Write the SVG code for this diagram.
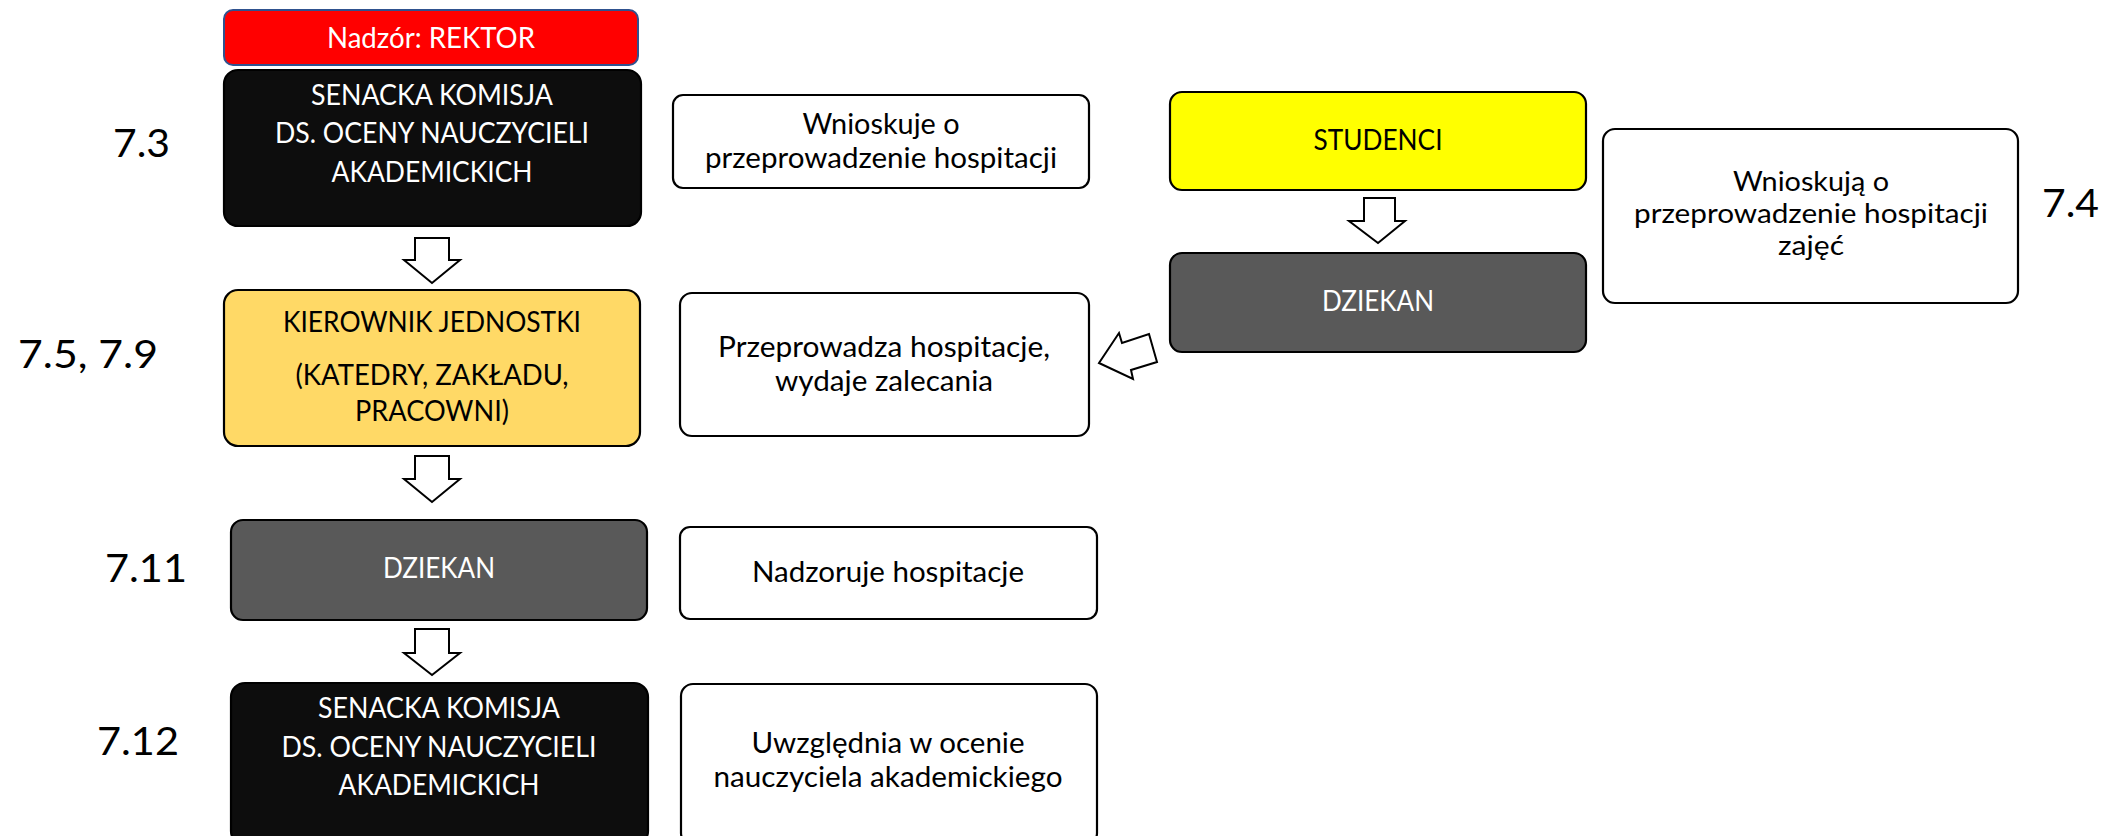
<svg xmlns="http://www.w3.org/2000/svg" width="2103" height="836" viewBox="0 0 2103 836">
<style>
text{font-family:Lato,"Open Sans","Noto Sans","Liberation Sans",sans-serif;font-size:28px;text-anchor:middle;fill:#000}
.w{fill:#fff}
.sm{font-size:26px}
.lbl{font-size:39px;text-anchor:start}
.box{stroke:#000;stroke-width:2.2}
.arr{fill:#fff;stroke:#000;stroke-width:2;stroke-linejoin:miter}
</style>
<rect width="2103" height="836" fill="#fff"/>
<g id="labels">
<text class="lbl" x="113" y="157" textLength="57" lengthAdjust="spacingAndGlyphs">7.3</text>
<text class="lbl" x="18" y="368" textLength="140" lengthAdjust="spacingAndGlyphs">7.5, 7.9</text>
<text class="lbl" x="105" y="582" textLength="82" lengthAdjust="spacingAndGlyphs">7.11</text>
<text class="lbl" x="97" y="755" textLength="82" lengthAdjust="spacingAndGlyphs">7.12</text>
<text class="lbl" x="2042" y="217" textLength="57" lengthAdjust="spacingAndGlyphs">7.4</text>
</g>
<g id="rektor">
<rect x="224" y="10" width="414" height="55" rx="9" fill="#ff0000" stroke="#2f528f" stroke-width="2"/>
<text class="w" x="431" y="48" textLength="208" lengthAdjust="spacingAndGlyphs">Nadzór: REKTOR</text>
</g>
<g id="komisja1">
<rect class="box" x="224" y="70" width="417" height="156" rx="14" fill="#0d0d0d"/>
<text class="w" x="432" y="105" textLength="242" lengthAdjust="spacingAndGlyphs">SENACKA KOMISJA</text>
<text class="w" x="432" y="143" textLength="314" lengthAdjust="spacingAndGlyphs">DS. OCENY NAUCZYCIELI</text>
<text class="w" x="432" y="182" textLength="201" lengthAdjust="spacingAndGlyphs">AKADEMICKICH</text>
</g>
<g id="kierownik">
<rect class="box" x="224" y="290" width="416" height="156" rx="14" fill="#ffd966"/>
<text x="432" y="332" textLength="298" lengthAdjust="spacingAndGlyphs">KIEROWNIK JEDNOSTKI</text>
<text x="432" y="385" textLength="273" lengthAdjust="spacingAndGlyphs">(KATEDRY, ZAKŁADU,</text>
<text x="432" y="421" textLength="154" lengthAdjust="spacingAndGlyphs">PRACOWNI)</text>
</g>
<g id="dziekan1">
<rect class="box" x="231" y="520" width="416" height="100" rx="12" fill="#595959"/>
<text class="w" x="439" y="578" textLength="112" lengthAdjust="spacingAndGlyphs">DZIEKAN</text>
</g>
<g id="komisja2">
<rect class="box" x="231" y="683" width="417" height="162" rx="14" fill="#0d0d0d"/>
<text class="w" x="439" y="718" textLength="242" lengthAdjust="spacingAndGlyphs">SENACKA KOMISJA</text>
<text class="w" x="439" y="757" textLength="315" lengthAdjust="spacingAndGlyphs">DS. OCENY NAUCZYCIELI</text>
<text class="w" x="439" y="795" textLength="201" lengthAdjust="spacingAndGlyphs">AKADEMICKICH</text>
</g>
<g id="wnioskuje">
<rect class="box" x="673" y="95" width="416" height="93" rx="10" fill="#fff"/>
<text x="881" y="134" textLength="157" lengthAdjust="spacingAndGlyphs">Wnioskuje o</text>
<text x="881" y="168" textLength="352" lengthAdjust="spacingAndGlyphs">przeprowadzenie hospitacji</text>
</g>
<g id="przeprowadza">
<rect class="box" x="680" y="293" width="409" height="143" rx="12" fill="#fff"/>
<text x="884" y="357" textLength="332" lengthAdjust="spacingAndGlyphs">Przeprowadza hospitacje,</text>
<text x="884" y="391" textLength="218" lengthAdjust="spacingAndGlyphs">wydaje zalecania</text>
</g>
<g id="nadzoruje">
<rect class="box" x="680" y="527" width="417" height="92" rx="10" fill="#fff"/>
<text x="888" y="582" textLength="272" lengthAdjust="spacingAndGlyphs">Nadzoruje hospitacje</text>
</g>
<g id="uwzglednia">
<rect class="box" x="681" y="684" width="416" height="161" rx="12" fill="#fff"/>
<text x="888" y="753" textLength="273" lengthAdjust="spacingAndGlyphs">Uwzględnia w ocenie</text>
<text x="888" y="787" textLength="349" lengthAdjust="spacingAndGlyphs">nauczyciela akademickiego</text>
</g>
<g id="studenci">
<rect class="box" x="1170" y="92" width="416" height="98" rx="12" fill="#ffff00"/>
<text x="1378" y="150" textLength="129" lengthAdjust="spacingAndGlyphs">STUDENCI</text>
</g>
<g id="dziekan2">
<rect class="box" x="1170" y="253" width="416" height="99" rx="12" fill="#595959"/>
<text class="w" x="1378" y="311" textLength="112" lengthAdjust="spacingAndGlyphs">DZIEKAN</text>
</g>
<g id="wnioskuja">
<rect class="box" x="1603" y="129" width="415" height="174" rx="12" fill="#fff"/>
<text class="sm" x="1811" y="191" textLength="156" lengthAdjust="spacingAndGlyphs">Wnioskują o</text>
<text class="sm" x="1811" y="223" textLength="354" lengthAdjust="spacingAndGlyphs">przeprowadzenie hospitacji</text>
<text class="sm" x="1811" y="255" textLength="66" lengthAdjust="spacingAndGlyphs">zajęć</text>
</g>
<g id="connectors">
<polygon class="arr" points="415,238 449,238 449,260 460,260 432,283 404,260 415,260"/>
<polygon class="arr" points="415,456 449,456 449,479 460,479 432,502 404,479 415,479"/>
<polygon class="arr" points="415,629 449,629 449,653 460,653 432,675 404,653 415,653"/>
<polygon class="arr" points="1364,198 1395,198 1395,221 1405,221 1378,243 1349,221 1364,221"/>
<polygon class="arr" points="1099,363 1119,333 1122,343 1149,334 1157,362 1131,370 1133,379"/>
</g>
</svg>
